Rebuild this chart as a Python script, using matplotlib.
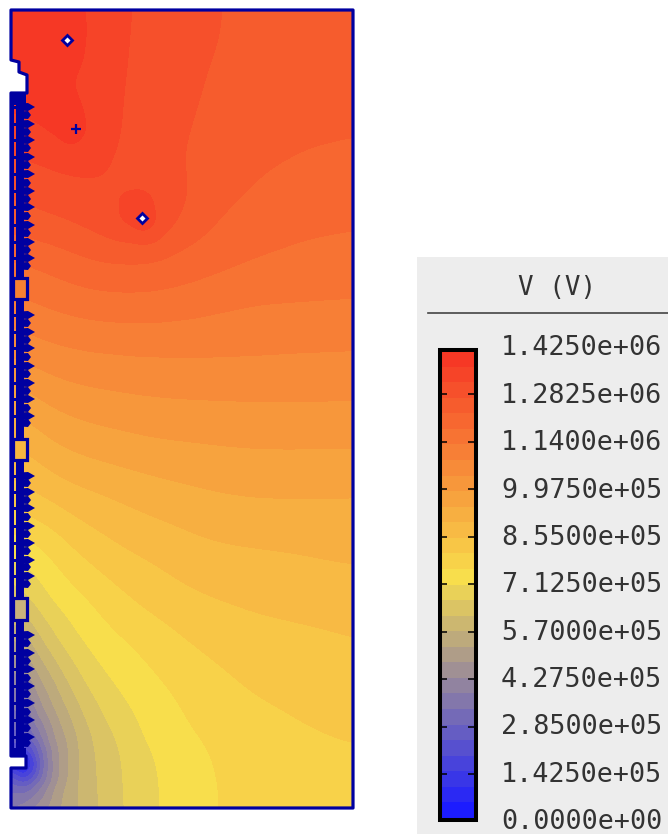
import numpy as np
import matplotlib
matplotlib.use("Agg")
import matplotlib.pyplot as plt
import matplotlib.tri as mtri
from matplotlib.colors import LinearSegmentedColormap, BoundaryNorm
from matplotlib.patches import Polygon, Rectangle

# ---------- data ----------
X_COLS = [10, 22, 30, 40, 55, 70, 85, 100, 120, 142, 165, 190, 215, 260, 305, 354]
Y_ROWS = [8, 40, 80, 129, 170, 195, 218, 260, 300, 350, 400, 450, 500, 550, 600, 640,
          680, 710, 735, 750, 762, 775, 790, 810]
# potential, in units of 1e5 V
V_GRID = [
 [14.1,14.1,14.1,14.05,14.0,13.9,13.76,13.6,13.38,13.22,13.08,12.95,12.84,12.72,12.62,12.58],
 [14.0,14.0,14.0,14.02,14.1,14.2,13.75,13.57,13.36,13.2,13.05,12.95,12.83,12.7,12.6,12.56],
 [13.9,13.9,13.9,13.88,13.83,13.78,13.64,13.5,13.34,13.17,13.02,12.9,12.77,12.62,12.52,12.47],
 [13.7,13.75,13.77,13.8,13.85,14.1,13.8,13.55,13.31,13.06,12.92,12.84,12.68,12.52,12.42,12.38],
 [13.05,13.1,13.15,13.2,13.28,13.32,13.35,13.33,13.2,13.08,12.92,12.78,12.6,12.37,12.27,12.23],
 [12.85,12.9,12.95,13.0,13.06,13.12,13.2,13.22,13.28,13.45,13.2,12.77,12.5,12.27,12.15,12.1],
 [12.6,12.65,12.7,12.75,12.8,12.88,12.98,13.1,13.35,13.8,13.1,12.65,12.38,12.12,12.0,11.95],
 [11.85,11.9,11.95,12.0,12.1,12.2,12.3,12.37,12.39,12.37,12.28,12.18,12.05,11.85,11.75,11.68],
 [11.3,11.35,11.4,11.47,11.55,11.62,11.68,11.72,11.75,11.75,11.72,11.64,11.53,11.43,11.41,11.39],
 [10.55,10.63,10.7,10.77,10.83,10.89,10.93,10.95,10.97,11.0,11.0,11.0,11.0,10.98,10.95,10.93],
 [9.6,9.72,9.85,9.96,10.11,10.2,10.25,10.3,10.34,10.39,10.42,10.44,10.45,10.47,10.47,10.45],
 [8.9,9.0,9.07,9.2,9.43,9.5,9.59,9.66,9.72,9.8,9.85,9.88,9.92,9.96,9.96,9.96],
 [8.2,8.3,8.4,8.48,8.6,8.76,8.85,8.92,9.04,9.14,9.25,9.32,9.41,9.48,9.48,9.46],
 [7.2,7.3,7.4,7.5,7.72,8.03,8.19,8.33,8.5,8.62,8.73,8.86,8.94,9.0,9.05,9.12],
 [6.2,6.4,6.65,6.9,7.25,7.36,7.54,7.72,7.95,8.15,8.3,8.45,8.53,8.66,8.73,8.79],
 [5.0,5.3,5.65,6.175,6.6,6.94,7.2,7.37,7.55,7.72,7.9,8.09,8.22,8.35,8.43,8.53],
 [3.6,4.2,4.7,5.2,5.7,6.3,6.72,6.98,7.24,7.43,7.63,7.8,7.95,8.19,8.31,8.36],
 [3.2,3.3,3.8,4.6,5.25,5.77,6.3,6.65,6.98,7.23,7.45,7.67,7.8,8.0,8.13,8.23],
 [2.8,2.6,3.0,3.7,4.85,5.4,6.0,6.38,6.75,7.17,7.37,7.57,7.68,7.85,8.04,8.13],
 [2.2,1.8,1.9,3.0,4.6,5.3,5.98,6.3,6.65,7.02,7.27,7.5,7.63,7.8,7.95,8.05],
 [0.6,0.1,0.8,2.8,4.6,5.28,5.98,6.28,6.62,6.97,7.22,7.48,7.62,7.75,7.88,7.97],
 [2.4,1.2,1.6,2.9,4.5,5.3,5.95,6.25,6.62,6.95,7.2,7.45,7.62,7.72,7.85,7.92],
 [3.3,3.1,3.3,3.8,4.9,5.5,5.97,6.22,6.62,6.93,7.18,7.43,7.61,7.7,7.82,7.88],
 [3.9,4.0,4.2,4.65,5.1,5.5,5.88,6.2,6.6,6.93,7.2,7.43,7.62,7.68,7.8,7.85],
]
V_TICKS = [0.0, 1.425e5, 2.85e5, 4.275e5, 5.7e5, 7.125e5, 8.55e5, 9.975e5, 1.14e6, 1.2825e6, 1.425e6]
TICK_LABELS = ["0.0000e+00", "1.4250e+05", "2.8500e+05", "4.2750e+05", "5.7000e+05",
               "7.1250e+05", "8.5500e+05", "9.9750e+05", "1.1400e+06", "1.2825e+06", "1.4250e+06"]
N_BANDS = 30
V_MAX = 1.425e6
TITLE = "V (V)"

# geometry of the device, in the picture's frame
DOMAIN_X = [11, 353, 353, 11, 11, 26, 26, 11, 11, 27, 27, 19, 19, 11]
DOMAIN_Y = [10, 10, 808, 808, 768, 768, 756, 756, 93, 93, 75, 72, 62, 60]
ELECTRODES_DIAMOND = [(67, 40), (142, 218)]
ELECTRODE_PLUS = [(76, 129)]
SHARP_SPOTS = [(67, 40, 25), (76, 129, 25), (142, 218, 25), (24, 762, 75)]
BOX_Y = [(278, 299), (439, 460), (598, 620)]
BOX_COLORS = ["#F88132", "#F6B640", "#C9B27C"]
TEETH_Y = [107,115,124,132,140,148,157,165,174,183,191,199,207,216,225,233,242,250,258,266,
           315,323,332,340,348,357,366,374,383,391,399,408,416,423,
           476,483,492,500,508,517,526,534,543,551,560,567,576,584,
           635,643,653,661,669,678,686,694,703,712,720,728,737,743]

BLUE = "#0000A0"
LOW, MID, HIGH = (28/255, 28/255, 1.0), (248/255, 222/255, 76/255), (246/255, 56/255, 37/255)

W, H = 668.0, 834.0
fig = plt.figure(figsize=(6.68, 8.34), dpi=100, facecolor="white")
ax = fig.add_axes([0, 0, 1, 1])
ax.set_xlim(0, W)
ax.set_ylim(H, 0)
ax.axis("off")

cmap = LinearSegmentedColormap.from_list(
    "vfield", [(0.0, LOW), (15 / 29, MID), (1.0, HIGH)], N=N_BANDS)
levels = np.linspace(0, V_MAX, N_BANDS + 1)
norm = BoundaryNorm(levels, N_BANDS)


def smooth(a, sigma):
    """Gaussian display filter that evens out hand-reading noise in the grid."""
    r = int(3 * sigma)
    k = np.exp(-0.5 * (np.arange(-r, r + 1) / sigma) ** 2)
    k /= k.sum()
    p = np.pad(a, r, mode="edge")
    p = np.apply_along_axis(lambda m: np.convolve(m, k, mode="same"), 0, p)
    p = np.apply_along_axis(lambda m: np.convolve(m, k, mode="same"), 1, p)
    return p[r:-r, r:-r]


gx, gy = np.meshgrid(X_COLS, Y_ROWS)
tri = mtri.Triangulation(gx.ravel().astype(float), gy.ravel().astype(float))
z = np.asarray(V_GRID).ravel() * 1e5
xi, yi = np.meshgrid(np.arange(X_COLS[0], X_COLS[-1] + 1, 2.0),
                     np.arange(Y_ROWS[0], Y_ROWS[-1] + 1, 2.0))
zi = np.asarray(mtri.LinearTriInterpolator(tri, z)(xi, yi))
blur_w = np.ones_like(zi)
for sx, sy, rad in SHARP_SPOTS:
    blur_w *= 1 - np.exp(-((xi - sx) ** 2 + (yi - sy) ** 2) / rad ** 2)
zs = blur_w * smooth(zi, 7) + (1 - blur_w) * smooth(zi, 2.5)
cs = ax.contourf(xi, yi, np.clip(zs, 0, V_MAX * 0.9999), levels=levels, cmap=cmap, norm=norm)
cs.set_edgecolor("face")
cs.set_linewidth(0.3)

domain = Polygon(np.column_stack([DOMAIN_X, DOMAIN_Y]), closed=True, fc="none", ec=BLUE,
                 lw=2.3, joinstyle="round", zorder=5)
ax.add_patch(domain)
cs.set_clip_path(domain)

# insulator stack on the left wall
ax.add_patch(Rectangle((10.5, 93), 3, 663, fc=BLUE, ec="none", zorder=4))
ax.add_patch(Rectangle((16, 93), 8, 663, fc=BLUE, ec="none", zorder=4))
ax.add_patch(Rectangle((10.5, 93), 15, 12, fc=BLUE, ec="none", zorder=4))
ax.add_patch(Rectangle((10.5, 748), 15, 9, fc=BLUE, ec="none", zorder=4))
for i, ty in enumerate(TEETH_Y):
    tip = 35 if i % 2 == 0 else 31
    ax.fill([20, 28, tip, 28, 20], [ty - 3.5, ty - 4, ty, ty + 4, ty + 3.5],
            fc=BLUE, ec="none", zorder=4)
    if i % 2 == 0:
        ax.add_patch(Rectangle((13, ty - 1), 4, 2.6, fc=BLUE, ec="none", zorder=4))
for (y0, y1), col in zip(BOX_Y, BOX_COLORS):
    ax.add_patch(Rectangle((13, y0), 14, y1 - y0, fc=col, ec=BLUE, lw=2.3, zorder=6))

# electrodes
for ex, ey in ELECTRODES_DIAMOND:
    ax.plot([ex], [ey], marker="D", ms=4.6, mfc="white", mec=BLUE, mew=2, ls="none", zorder=6)
for ex, ey in ELECTRODE_PLUS:
    ax.plot([ex], [ey], marker="+", ms=7.5, mec=BLUE, mew=1.6, ls="none", zorder=6)

# legend panel
ax.add_patch(Rectangle((417, 257), 251, 577, fc="#EDEDED", ec="none", zorder=1))
ax.plot([428, 668], [313, 313], color="#444444", lw=1.2, zorder=2)
ax.text(557, 288, TITLE, family="DejaVu Sans Mono", fontsize=18.6, color="#333333",
        ha="center", va="center", zorder=2)

BAR_TOP, BAR_BOTTOM = 351.0, 818.0
TICK_V0_PX, TICK_SPAN_PX = 821.5, 475.0
cax = fig.add_axes([441 / W, 1 - BAR_BOTTOM / H, 33 / W, (BAR_BOTTOM - BAR_TOP) / H])
cbar = fig.colorbar(cs, cax=cax, spacing="proportional")
cbar.outline.set_visible(False)
tick_px = TICK_V0_PX - np.asarray(V_TICKS) / V_MAX * TICK_SPAN_PX
tick_u = (BAR_BOTTOM - tick_px) / (BAR_BOTTOM - BAR_TOP) * V_MAX
cbar.set_ticks(list(tick_u[1:-1]))
cax.set_yticklabels([])
cax.tick_params(axis="y", which="both", left=True, right=True, direction="in",
                length=4.3, width=1.1, color="black", labelleft=False, labelright=False)
cax.minorticks_off()
fig.add_artist(Rectangle((439.7 / W, 1 - 820.2 / H), 36 / W, 470.7 / H, transform=fig.transFigure,
                         fc="none", ec="black", lw=2.9, zorder=5))
for v, lab in zip(V_TICKS, TICK_LABELS):
    py = 822.3 - (v / V_MAX) * 474
    ax.text(501, py, lab, family="DejaVu Sans Mono", fontsize=19.3, color="#333333",
            ha="left", va="center", zorder=3)

fig.savefig("out.png", dpi=100, facecolor="white")
